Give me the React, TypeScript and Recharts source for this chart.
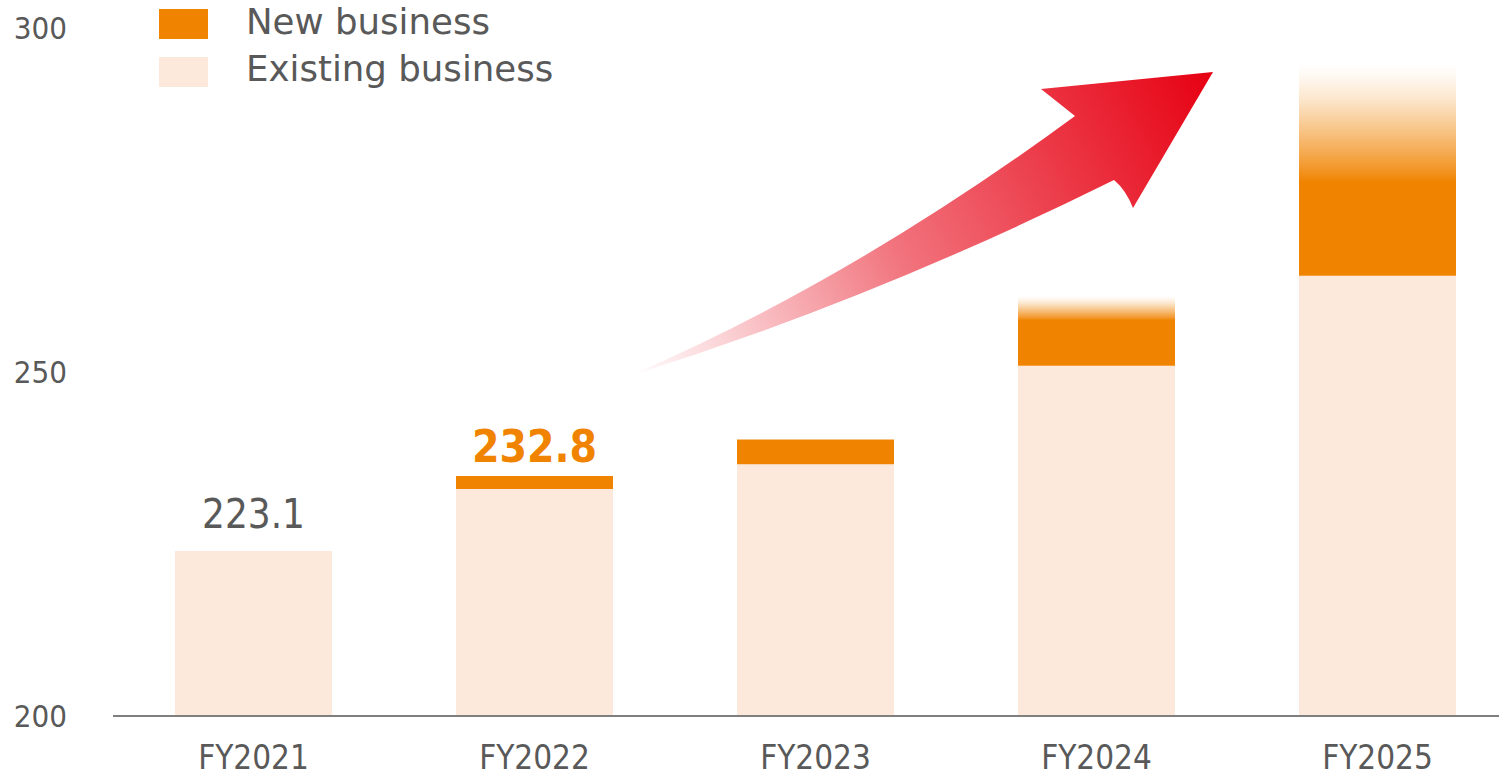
import React from "react";
import { BarChart, Bar, XAxis, YAxis, LabelList } from "recharts";

// chart data
const categories = ["FY2021", "FY2022", "FY2023", "FY2024", "FY2025"];
const existingBusiness = [224.0, 233.0, 236.6, 250.9, 264.0];
const newBusiness = [0, 1.9, 3.6, 6.7, 13.7];
const newBusinessOutlook = [0, 0, 0, 3.5, 17.3];
const valueLabels = ["223.1", "232.8", "", "", ""];
const yTicks = [200, 250, 300];
const highlightLabel = "232.8";

const ORANGE = "#F08300";
const PEACH = "#FCE9DB";
const GRAY = "#595959";
const NUM_FONT = "'DejaVu Sans Condensed', 'DejaVu Sans', sans-serif";
const TEXT_FONT = "'DejaVu Sans', sans-serif";

// the label sits on whichever stacked segment is the visible top of the bar
const data = categories.map((name, i) => {
  const top =
    newBusinessOutlook[i] > 0 ? "outlook" : newBusiness[i] > 0 ? "newBiz" : "existing";
  return {
    name,
    existing: existingBusiness[i],
    newBiz: newBusiness[i],
    outlook: newBusinessOutlook[i],
    labelExisting: top === "existing" ? valueLabels[i] : "",
    labelNewBiz: top === "newBiz" ? valueLabels[i] : "",
    labelOutlook: top === "outlook" ? valueLabels[i] : "",
  };
});

function ValueLabel(props: any) {
  const { x, y, width, value } = props;
  if (!value) return null;
  const bold = value === highlightLabel;
  return (
    <text
      x={Number(x) + Number(width) / 2}
      y={Number(y) - (bold ? 14 : 23)}
      textAnchor="middle"
      fontFamily={NUM_FONT}
      fontSize={bold ? 44 : 40}
      fontWeight={bold ? 700 : 400}
      fill={bold ? ORANGE : GRAY}
    >
      {value}
    </text>
  );
}

// fade segment drawn 1px taller so no seam shows against the solid part
function FadeBar(props: any) {
  const { x, y, width, height, fill } = props;
  if (!height) return null;
  return <rect x={x} y={y} width={width} height={height + 1} fill={fill} />;
}

function Overlay() {
  return (
    <svg
      width={1499}
      height={777}
      style={{ position: "absolute", left: 0, top: 0, pointerEvents: "none" }}
    >
      <defs>
        <linearGradient id="arrowGrad" gradientUnits="userSpaceOnUse" x1={629} y1={375} x2={1213} y2={72}>
          <stop offset="0" stopColor="#E60012" stopOpacity={0} />
          <stop offset="0.15" stopColor="#E60012" stopOpacity={0.17} />
          <stop offset="0.45" stopColor="#E60012" stopOpacity={0.55} />
          <stop offset="0.75" stopColor="#E60012" stopOpacity={0.8} />
          <stop offset="1" stopColor="#E60012" stopOpacity={1} />
        </linearGradient>
      </defs>
      {/* growth arrow */}
      <path
        d="M629,376 Q852,280 1075,116 L1041,89 L1213,72 L1133,208 Q1126,190 1114,180 Q870,301 629,376 Z"
        fill="url(#arrowGrad)"
      />
      {/* legend */}
      <rect x={159} y={9} width={49} height={30} fill={ORANGE} />
      <text x={246} y={34} fontFamily={TEXT_FONT} fontSize={35.6} fill={GRAY}>
        New business
      </text>
      <rect x={159} y={57} width={49} height={30} fill={PEACH} />
      <text x={246} y={81} fontFamily={TEXT_FONT} fontSize={35.6} fill={GRAY}>
        Existing business
      </text>
    </svg>
  );
}

export default function App() {
  return (
    <div
      style={{
        position: "absolute",
        left: 0,
        top: 0,
        width: 1499,
        height: 777,
        overflow: "hidden",
        background: "#fff",
      }}
    >
      <BarChart
        width={1530}
        height={777}
        data={data}
        margin={{ top: 28, right: 12, bottom: 0, left: 0 }}
      >
        <defs>
          <linearGradient id="outlookGrad" x1="0" y1="1" x2="0" y2="0">
            <stop offset="0" stopColor={ORANGE} stopOpacity={1} />
            <stop offset="0.13" stopColor={ORANGE} stopOpacity={0.82} />
            <stop offset="0.41" stopColor={ORANGE} stopOpacity={0.5} />
            <stop offset="0.69" stopColor={ORANGE} stopOpacity={0.2} />
            <stop offset="0.9" stopColor={ORANGE} stopOpacity={0.04} />
            <stop offset="1" stopColor={ORANGE} stopOpacity={0} />
          </linearGradient>
        </defs>
        <XAxis
          dataKey="name"
          height={61}
          tickLine={false}
          tickSize={0}
          tickMargin={30}
          axisLine={{ stroke: "#7F7F7F", strokeWidth: 2 }}
          tick={{ fill: GRAY, fontSize: 33, fontFamily: NUM_FONT }}
        />
        <YAxis
          width={113}
          domain={[200, 300]}
          ticks={yTicks}
          allowDataOverflow
          axisLine={false}
          tickLine={false}
          tickSize={0}
          tickMargin={46}
          tick={{ fill: GRAY, fontSize: 31, fontFamily: NUM_FONT }}
        />
        <Bar dataKey="existing" stackId="a" fill={PEACH} barSize={157} isAnimationActive={false}>
          <LabelList dataKey="labelExisting" content={<ValueLabel />} />
        </Bar>
        <Bar dataKey="newBiz" stackId="a" fill={ORANGE} barSize={157} isAnimationActive={false}>
          <LabelList dataKey="labelNewBiz" content={<ValueLabel />} />
        </Bar>
        <Bar
          dataKey="outlook"
          stackId="a"
          fill="url(#outlookGrad)"
          barSize={157}
          shape={<FadeBar />}
          isAnimationActive={false}
        >
          <LabelList dataKey="labelOutlook" content={<ValueLabel />} />
        </Bar>
      </BarChart>
      <Overlay />
    </div>
  );
}
